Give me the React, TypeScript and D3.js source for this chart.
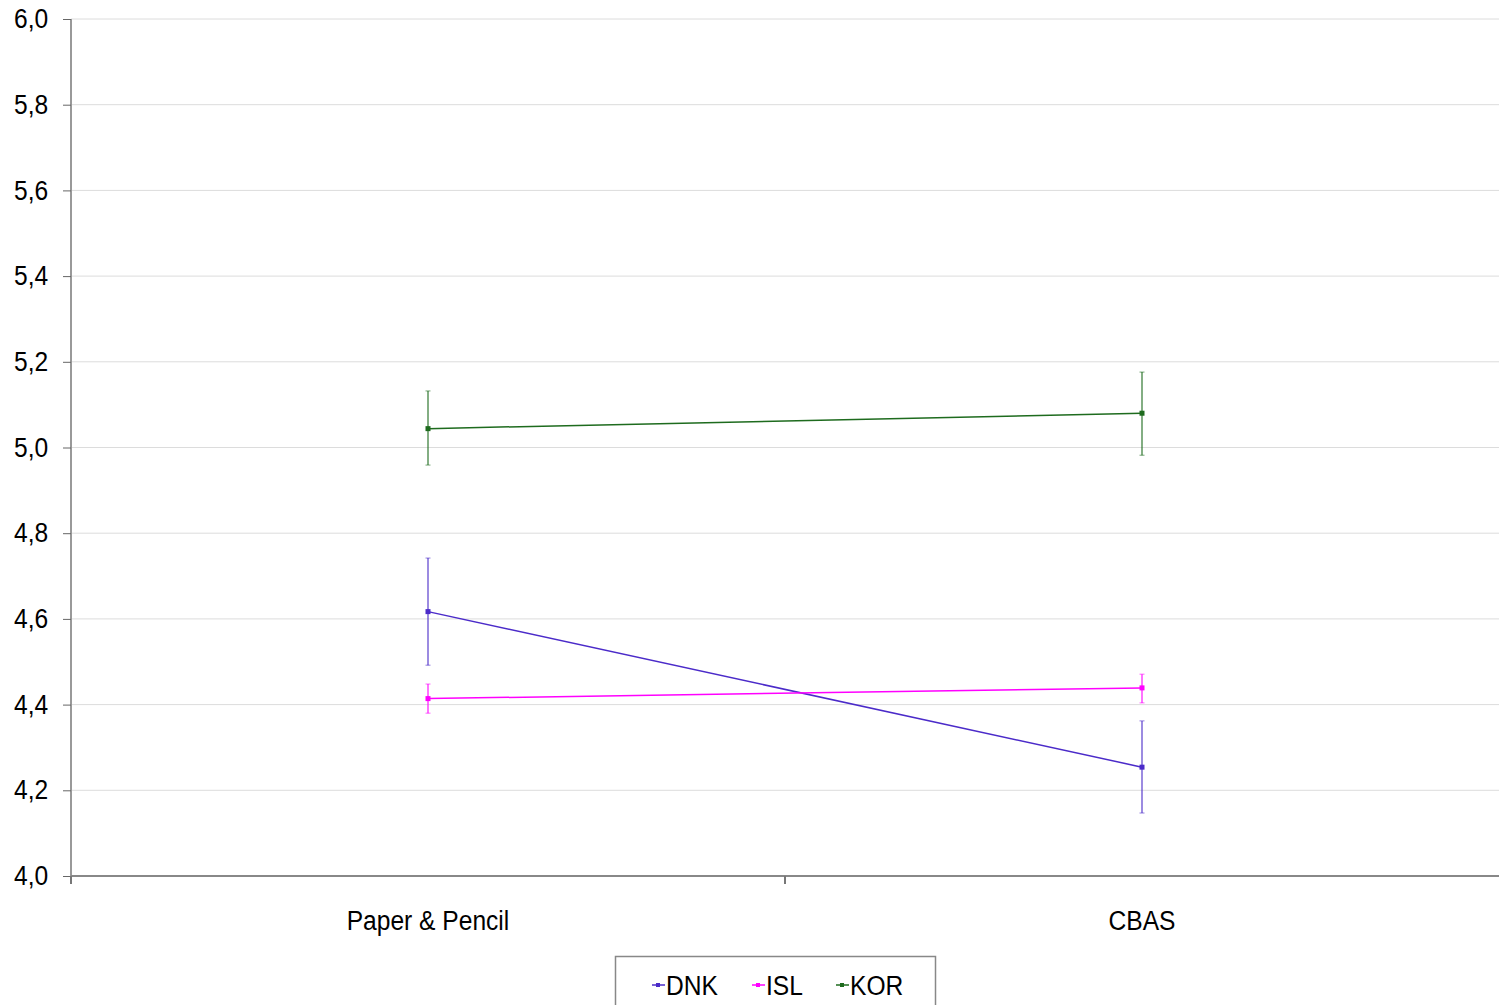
import React, { useEffect, useRef } from 'react';
import * as d3 from 'd3';

const categories = ["Paper & Pencil", "CBAS"];
const yTicks = [4.0, 4.2, 4.4, 4.6, 4.8, 5.0, 5.2, 5.4, 5.6, 5.8, 6.0];

const seriesNames = ["DNK", "ISL", "KOR"];
const seriesColors = ["#4b2bc9", "#ff00ff", "#1e6b1e"];
const dnkMean = [4.617, 4.254];
const dnkLow = [4.492, 4.147];
const dnkHigh = [4.742, 4.362];
const islMean = [4.414, 4.439];
const islLow = [4.380, 4.404];
const islHigh = [4.448, 4.471];
const korMean = [5.044, 5.080];
const korLow = [4.959, 4.982];
const korHigh = [5.132, 5.176];

const FONT = "'Liberation Sans Narrow', 'Arial Narrow', 'Liberation Sans', Arial, sans-serif";

// squeeze text horizontally to mimic a narrow face
const narrow = (sel: d3.Selection<any, any, any, any>) => {
  sel.each(function () {
    const t = this as SVGTextElement;
    const w = t.getComputedTextLength();
    t.setAttribute("textLength", String(w * 0.91));
    t.setAttribute("lengthAdjust", "spacingAndGlyphs");
  });
};

const App = () => {
  const ref = useRef<SVGSVGElement>(null);

  useEffect(() => {
    const svg = d3.select(ref.current);
    svg.selectAll("*").remove();

    const left = 71, right = 1499, top = 19, bottom = 876;

    const x = d3.scaleBand<string>().domain(categories).range([left, right]);
    const y = d3.scaleLinear().domain([4, 6]).range([bottom, top]);

    // gridlines
    svg.append("g").selectAll("line")
      .data(yTicks.slice(1))
      .enter().append("line")
      .attr("x1", left).attr("x2", right)
      .attr("y1", d => y(d)).attr("y2", d => y(d))
      .attr("stroke", "#dcdcdc").attr("stroke-width", 1);

    // y axis
    const yAxis = svg.append("g")
      .attr("transform", `translate(${left},0)`)
      .call(d3.axisLeft(y).tickValues(yTicks).tickSize(8).tickPadding(23)
        .tickFormat(d => d3.format(".1f")(d as number).replace(".", ",")));
    yAxis.select(".domain").attr("stroke", "#999").attr("stroke-width", 2).attr("d", `M0,${top}V${bottom + 8}`);
    yAxis.selectAll(".tick line").attr("stroke", "#666");
    const yLabels = yAxis.selectAll("text").attr("font-family", FONT).attr("font-size", 27)
      .attr("fill", "#000").attr("text-anchor", "start").attr("x", -57);
    narrow(yLabels);

    // x axis
    const xAxis = svg.append("g").attr("transform", `translate(0,${bottom})`);
    xAxis.append("line").attr("x1", left).attr("x2", right).attr("y1", 0).attr("y2", 0)
      .attr("stroke", "#888").attr("stroke-width", 2);
    const bounds = [left, ...categories.slice(1).map(c => x(c)!)];
    xAxis.selectAll("line.tk").data(bounds).enter().append("line")
      .attr("class", "tk")
      .attr("x1", d => d).attr("x2", d => d).attr("y1", 0).attr("y2", 8)
      .attr("stroke", "#777").attr("stroke-width", 2);
    const xLabels = xAxis.selectAll("text").data(categories).enter().append("text")
      .attr("x", d => x(d)! + x.bandwidth() / 2)
      .attr("y", 54)
      .attr("text-anchor", "middle")
      .attr("font-family", FONT).attr("font-size", 27)
      .text(d => d);
    narrow(xLabels);

    const series = [
      { name: seriesNames[0], color: seriesColors[0], mean: dnkMean, low: dnkLow, high: dnkHigh },
      { name: seriesNames[1], color: seriesColors[1], mean: islMean, low: islLow, high: islHigh },
      { name: seriesNames[2], color: seriesColors[2], mean: korMean, low: korLow, high: korHigh },
    ];
    const cx = (i: number) => x(categories[i])! + x.bandwidth() / 2;

    series.forEach(s => {
      const g = svg.append("g");
      // error bars
      s.mean.forEach((_, i) => {
        g.append("line")
          .attr("x1", cx(i)).attr("x2", cx(i))
          .attr("y1", y(s.low[i])).attr("y2", y(s.high[i]))
          .attr("stroke", s.color).attr("stroke-opacity", 0.55).attr("stroke-width", 2);
        [s.low[i], s.high[i]].forEach(v => {
          g.append("line")
            .attr("x1", cx(i) - 2.5).attr("x2", cx(i) + 2.5)
            .attr("y1", y(v)).attr("y2", y(v))
            .attr("stroke", s.color).attr("stroke-opacity", 0.6).attr("stroke-width", 1);
        });
      });
      const line = d3.line<number>().x((_, i) => cx(i)).y(d => y(d));
      g.append("path").attr("d", line(s.mean)!)
        .attr("fill", "none").attr("stroke", s.color).attr("stroke-width", 1.5);
      g.selectAll("rect").data(s.mean).enter().append("rect")
        .attr("x", (_, i) => cx(i) - 2.5).attr("y", d => y(d) - 2.5)
        .attr("width", 5).attr("height", 5).attr("fill", s.color);
    });

    // legend
    const lg = svg.append("g");
    lg.append("rect").attr("x", 615.5).attr("y", 956.5).attr("width", 320).attr("height", 60)
      .attr("fill", "#fff").attr("stroke", "#888").attr("stroke-width", 1.5);
    const lx = [652, 752, 836];
    series.forEach((s, i) => {
      lg.append("line").attr("x1", lx[i]).attr("x2", lx[i] + 13).attr("y1", 985).attr("y2", 985)
        .attr("stroke", s.color).attr("stroke-width", 1.5);
      lg.append("rect").attr("x", lx[i] + 4).attr("y", 983).attr("width", 4).attr("height", 4).attr("fill", s.color);
      const t = lg.append("text").attr("x", lx[i] + 14).attr("y", 995)
        .attr("font-family", FONT).attr("font-size", 27).text(s.name);
      narrow(t);
    });
  }, []);

  return (
    <svg ref={ref} width={1499} height={1005}
      style={{ position: "absolute", left: 0, top: 0, background: "#fff" }} />
  );
};

export default App;
